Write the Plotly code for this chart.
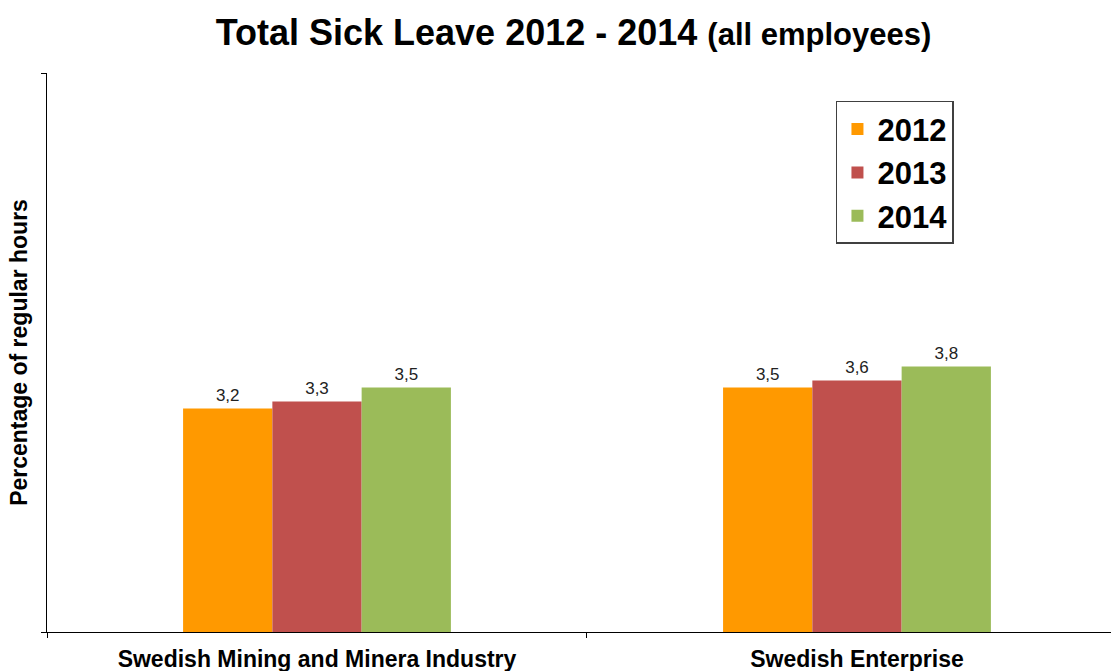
import plotly.graph_objects as go

categories = ["Swedish Mining and Minera Industry", "Swedish Enterprise"]
years = ["2012", "2013", "2014"]
values_2012 = [3.2, 3.5]
values_2013 = [3.3, 3.6]
values_2014 = [3.5, 3.8]
colors = ["#FF9900", "#C0504D", "#9BBB59"]

series = [values_2012, values_2013, values_2014]

fig = go.Figure()
for name, vals, col in zip(years, series, colors):
    fig.add_trace(go.Bar(
        x=categories, y=vals, name=f"<b>{name}</b>",
        marker=dict(color=col, line=dict(width=0)),
        text=[f"{v:.1f}".replace(".", ",") for v in vals],
        textposition="outside",
        textfont=dict(family="Arial", size=17, color="#222222"),
        cliponaxis=False,
    ))

fig.update_layout(
    width=1111, height=671,
    margin=dict(l=47, r=0, t=73, b=39),
    paper_bgcolor="white", plot_bgcolor="white",
    barmode="group", bargap=0.504, bargroupgap=0,
    title=dict(
        text="<b>Total Sick Leave 2012 - 2014 </b><b><span style='font-size:31px'>(all employees)</span></b>",
        font=dict(family="Arial", size=36, color="black"),
        x=0.5162, xanchor="center", y=0.952, yanchor="middle",
    ),
    legend=dict(
        x=0.7415, y=0.95, xanchor="left", yanchor="top",
        bordercolor="#404040", borderwidth=1.5, bgcolor="white",
        font=dict(family="Arial", size=31, color="black"),
        itemwidth=30, tracegroupgap=0,
    ),
    showlegend=True,
)

fig.update_xaxes(
    range=[-0.5, 1.4704],
    automargin=False,
    showline=True, linecolor="black", linewidth=1,
    ticks="outside", tickson="boundaries", ticklen=5, tickcolor="black",
    tickfont=dict(family="Arial", size=23, color="black"),
    tickprefix="<b>", ticksuffix="</b>",
    ticklabelstandoff=6,
    showgrid=False,
)
fig.update_yaxes(
    range=[0, 8],
    tickvals=[0, 8], showticklabels=False,
    ticks="outside", ticklen=5, tickcolor="black",
    showline=True, linecolor="black", linewidth=1,
    showgrid=True, gridcolor="#A0A0A0", gridwidth=2.5,
    zeroline=False,
    title=dict(text="<b>Percentage of regular hours</b>",
               font=dict(family="Arial", size=23, color="black"), standoff=6),
)

fig.write_html("out.html")
